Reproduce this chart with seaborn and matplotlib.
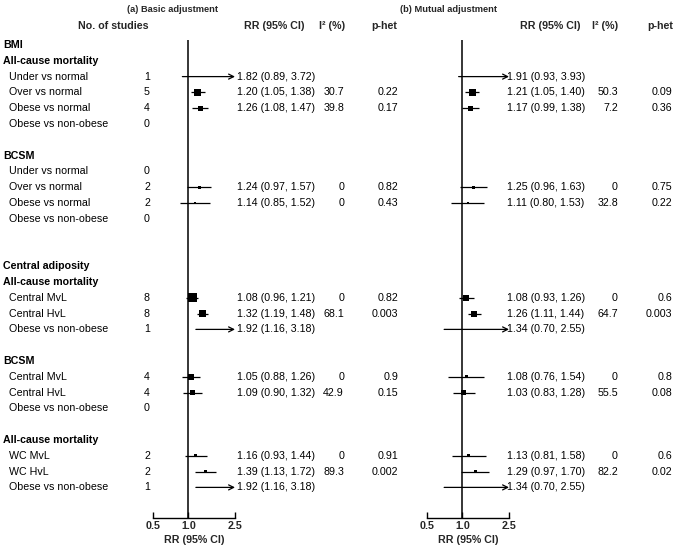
import numpy as np
import pandas as pd
import matplotlib
matplotlib.use("Agg")
import matplotlib.pyplot as plt
import matplotlib.transforms as mtrans
from matplotlib.ticker import NullLocator
import seaborn as sns

# ---- data -------------------------------------------------------------
row_labels = ["BMI", "All-cause mortality", "Under vs normal", "Over vs normal",
              "Obese vs normal", "Obese vs non-obese", "",
              "BCSM", "Under vs normal", "Over vs normal", "Obese vs normal",
              "Obese vs non-obese", "", "",
              "Central adiposity", "All-cause mortality", "Central MvL",
              "Central HvL", "Obese vs non-obese", "",
              "BCSM", "Central MvL", "Central HvL", "Obese vs non-obese", "",
              "All-cause mortality", "WC MvL", "WC HvL", "Obese vs non-obese"]

n_studies = [None, None, 1, 5, 4, 0, None,
             None, 0, 2, 2, 0, None, None,
             None, None, 8, 8, 1, None,
             None, 4, 4, 0, None,
             None, 2, 2, 1]

N = None
basic_rr = [N, N, 1.82, 1.20, 1.26, N, N, N, N, 1.24, 1.14, N, N, N,
            N, N, 1.08, 1.32, 1.92, N, N, 1.05, 1.09, N, N, N, 1.16, 1.39, 1.92]
basic_lo = [N, N, 0.89, 1.05, 1.08, N, N, N, N, 0.97, 0.85, N, N, N,
            N, N, 0.96, 1.19, 1.16, N, N, 0.88, 0.90, N, N, N, 0.93, 1.13, 1.16]
basic_hi = [N, N, 3.72, 1.38, 1.47, N, N, N, N, 1.57, 1.52, N, N, N,
            N, N, 1.21, 1.48, 3.18, N, N, 1.26, 1.32, N, N, N, 1.44, 1.72, 3.18]
basic_i2 = ["", "", "", "30.7", "39.8", "", "", "", "", "0", "0", "", "", "",
            "", "", "0", "68.1", "", "", "", "0", "42.9", "", "", "", "0", "89.3", ""]
basic_p = ["", "", "", "0.22", "0.17", "", "", "", "", "0.82", "0.43", "", "", "",
           "", "", "0.82", "0.003", "", "", "", "0.9", "0.15", "", "", "", "0.91", "0.002", ""]

mutual_rr = [N, N, 1.91, 1.21, 1.17, N, N, N, N, 1.25, 1.11, N, N, N,
             N, N, 1.08, 1.26, 1.34, N, N, 1.08, 1.03, N, N, N, 1.13, 1.29, 1.34]
mutual_lo = [N, N, 0.93, 1.05, 0.99, N, N, N, N, 0.96, 0.80, N, N, N,
             N, N, 0.93, 1.11, 0.70, N, N, 0.76, 0.83, N, N, N, 0.81, 0.97, 0.70]
mutual_hi = [N, N, 3.93, 1.40, 1.38, N, N, N, N, 1.63, 1.53, N, N, N,
             N, N, 1.26, 1.44, 2.55, N, N, 1.54, 1.28, N, N, N, 1.58, 1.70, 2.55]
mutual_i2 = ["", "", "", "50.3", "7.2", "", "", "", "", "0", "32.8", "", "", "",
             "", "", "0", "64.7", "", "", "", "0", "55.5", "", "", "", "0", "82.2", ""]
mutual_p = ["", "", "", "0.09", "0.36", "", "", "", "", "0.75", "0.22", "", "", "",
            "", "", "0.6", "0.003", "", "", "", "0.8", "0.08", "", "", "", "0.6", "0.02", ""]

# box sides in pixels (study weight)
basic_box = [0, 0, 1, 7, 5, 0, 0, 0, 0, 3, 2, 0, 0, 0,
             0, 0, 9, 7, 1, 0, 0, 6, 5, 0, 0, 0, 3, 3, 1]
mutual_box = [0, 0, 1, 7, 5, 0, 0, 0, 0, 3, 2, 0, 0, 0,
              0, 0, 6, 6, 1, 0, 0, 3, 5, 0, 0, 0, 3, 3, 1]

# ---- layout -----------------------------------------------------------
W, H = 676, 552
FS = 7.7
ROW0, ROWH = 45, 15.8          # pixel y of first row, row step
AX_TOP, AX_BOT = 40, 518
XMAX_AXIS = 2.5

sns.set_theme(style="white")
plt.rcParams["font.family"] = ["Liberation Sans", "DejaVu Sans"]

fig = plt.figure(figsize=(W / 100, H / 100), dpi=100)
fig.patch.set_facecolor("white")


def fx(px):
    return px / W


def fy(py):
    return 1 - py / H


def make_axes(x0, x1):
    ax = fig.add_axes([fx(x0), fy(AX_BOT), (x1 - x0) / W, (AX_BOT - AX_TOP) / H])
    return ax


def draw_panel(ax, rr, lo, hi, box):
    df = pd.DataFrame({"row": np.arange(len(rr)), "rr": rr, "lo": lo,
                       "hi": hi, "box": box}).dropna(subset=["rr"])
    df["area"] = (df["box"].astype(float) * 0.72) ** 2
    ax.set_xscale("log")
    ax.axvline(1.0, color="black", lw=1.1, zorder=1)
    for _, r in df.iterrows():
        if r["hi"] > XMAX_AXIS:
            ax.annotate("", xy=(XMAX_AXIS, r["row"]), xytext=(r["lo"], r["row"]),
                        arrowprops=dict(arrowstyle="->", color="black", lw=0.9,
                                        shrinkA=0, shrinkB=0, mutation_scale=9))
        else:
            ax.hlines(r["row"], r["lo"], r["hi"], color="black", lw=0.9, zorder=2)
    sns.scatterplot(data=df, x="rr", y="row", size="area",
                    sizes={a: a for a in df["area"].unique()},
                    marker="s", color="black", linewidth=0,
                    legend=False, ax=ax, zorder=3)
    ax.set_xlim(0.5, XMAX_AXIS)
    ax.set_ylim((AX_BOT - ROW0) / ROWH, (AX_TOP - ROW0) / ROWH)
    ax.set_xticks([0.5, 1.0, 2.5])
    ax.xaxis.set_minor_locator(NullLocator())
    ax.set_xticklabels(["0.5", "1.0", "2.5"], fontweight="bold", fontsize=FS)
    ax.set_yticks([])
    ax.set_ylabel("")
    ax.set_xlabel("RR (95% CI)", fontweight="bold", fontsize=FS, labelpad=3)
    for s in ["top", "right", "left"]:
        ax.spines[s].set_visible(False)
    ax.spines["bottom"].set_color("black")
    ax.spines["bottom"].set_linewidth(1)
    ax.tick_params(axis="x", direction="in", length=4, width=1,
                   color="black", pad=2, bottom=True)
    ax.patch.set_visible(False)


axL = make_axes(153, 235)
axR = make_axes(427, 509)
draw_panel(axL, basic_rr, basic_lo, basic_hi, basic_box)
draw_panel(axR, mutual_rr, mutual_lo, mutual_hi, mutual_box)

tr = mtrans.blended_transform_factory(fig.transFigure, axL.transData)


def put(px, row, s, ha="left", bold=False):
    axL.text(fx(px), row, s, transform=tr, ha=ha, va="center", fontsize=FS,
             fontweight="bold" if bold else "normal", color="black", clip_on=False)


for i, lab in enumerate(row_labels):
    if not lab:
        continue
    is_head = n_studies[i] is None
    put(3 if is_head else 9, i, lab, bold=is_head)
    if not is_head:
        put(147, i, str(n_studies[i]), ha="center")

for rr, lo, hi, i2, p, x_rr, x_i2, x_p in [
        (basic_rr, basic_lo, basic_hi, basic_i2, basic_p, 237, 344, 398),
        (mutual_rr, mutual_lo, mutual_hi, mutual_i2, mutual_p, 507, 618, 672)]:
    for i in range(len(rr)):
        if rr[i] is None:
            continue
        put(x_rr, i, f"{rr[i]:.2f} ({lo[i]:.2f}, {hi[i]:.2f})")
        put(x_i2, i, i2[i], ha="right")
        put(x_p, i, p[i], ha="right")

# column headers
for px, s in [(113, "No. of studies"), (274, "RR (95% CI)"), (332, "I² (%)"),
              (384, "p-het"), (550, "RR (95% CI)"), (605, "I² (%)"), (660, "p-het")]:
    fig.text(fx(px), fy(26), s, ha="center", va="center", fontsize=FS,
             fontweight="bold")

fig.text(fx(172), fy(10), "(a) Basic adjustment", ha="center", va="center",
         fontsize=6.7, fontweight="bold")
fig.text(fx(449), fy(10), "(b) Mutual adjustment", ha="center", va="center",
         fontsize=6.7, fontweight="bold")

fig.savefig("out.png", dpi=100, facecolor="white")
